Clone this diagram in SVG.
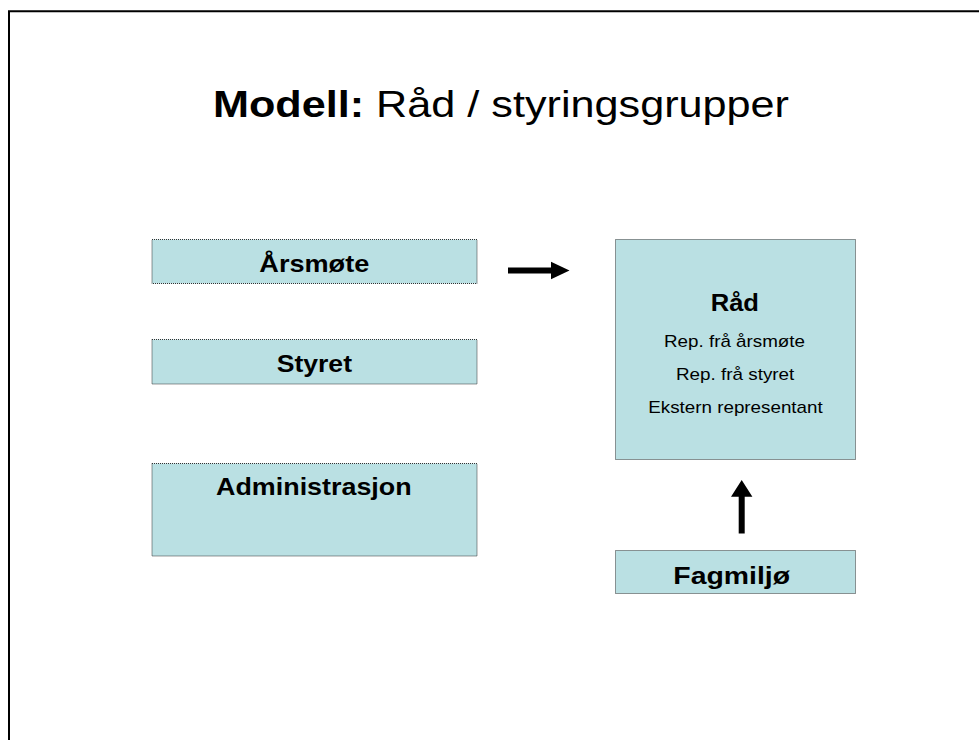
<svg xmlns="http://www.w3.org/2000/svg" width="979" height="740" viewBox="0 0 979 740">
<style>
.box{fill:#bae0e3;stroke:#333;stroke-width:1;stroke-dasharray:1,1}
.t{font-family:"Liberation Sans",Arial,sans-serif;fill:#000}
.b{font-weight:bold;font-size:24px}
.s{font-size:17px}
.arrow{fill:#000;stroke:none}
</style>
<rect width="979" height="740" fill="#fff"/>
<path d="M9,740 V11.3 H979" fill="none" stroke="#000" stroke-width="2"/>
<g id="title">
<text class="t" x="213" y="117.3" font-size="36.5" textLength="576" lengthAdjust="spacingAndGlyphs"><tspan font-weight="bold">Modell:</tspan> Råd / styringsgrupper</text>
</g>
<g id="node-arsmote">
<rect class="box" x="152" y="239.5" width="325" height="44"/>
<text class="t b" x="259.3" y="272.3" textLength="110" lengthAdjust="spacingAndGlyphs">Årsmøte</text>
</g>
<g id="node-styret">
<rect class="box" x="152" y="339.5" width="325" height="44.5"/>
<text class="t b" x="276.7" y="371.7" textLength="75.3" lengthAdjust="spacingAndGlyphs">Styret</text>
</g>
<g id="node-administrasjon">
<rect class="box" x="152" y="463.5" width="325" height="92.5"/>
<text class="t b" x="216" y="495" textLength="195.7" lengthAdjust="spacingAndGlyphs">Administrasjon</text>
</g>
<g id="node-rad">
<rect class="box" x="615.5" y="239.5" width="240" height="220"/>
<text class="t" x="710.7" y="310.7" font-weight="bold" font-size="23.5" textLength="48.3" lengthAdjust="spacingAndGlyphs">Råd</text>
<text class="t s" x="664" y="346.7" textLength="141" lengthAdjust="spacingAndGlyphs">Rep. frå årsmøte</text>
<text class="t s" x="676" y="380" textLength="118.3" lengthAdjust="spacingAndGlyphs">Rep. frå styret</text>
<text class="t s" x="648.3" y="412.7" textLength="174.4" lengthAdjust="spacingAndGlyphs">Ekstern representant</text>
</g>
<g id="node-fagmiljo">
<rect class="box" x="615.5" y="550.5" width="240" height="43"/>
<text class="t b" x="673.3" y="583.5" textLength="116.7" lengthAdjust="spacingAndGlyphs">Fagmiljø</text>
</g>
<g id="connectors">
<path class="arrow" d="M508,267.5 H551 V261.7 L569.5,270.5 L551,279.3 V273.5 H508 Z"/>
<path class="arrow" d="M738.7,533.5 V496.7 H731 L741.7,480 L752.4,496.7 H744.7 V533.5 Z"/>
</g>
</svg>
